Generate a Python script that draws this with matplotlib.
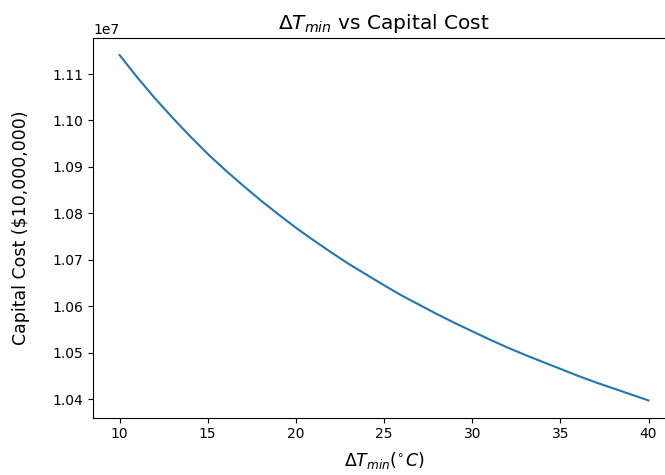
import matplotlib
matplotlib.use("Agg")
import matplotlib.pyplot as plt

dt_min = [10, 11, 12, 13, 14, 15, 16, 17, 18, 19, 20, 21, 22, 23, 24, 25,
          26, 27, 28, 29, 30, 31, 32, 33, 34, 35, 36, 37, 38, 39, 40]
capital_cost = [1.1141e7, 1.1093e7, 1.1048e7, 1.1006e7, 1.0966e7, 1.0928e7,
                1.0893e7, 1.0860e7, 1.0828e7, 1.0798e7, 1.0769e7, 1.0742e7,
                1.0716e7, 1.0691e7, 1.0668e7, 1.0645e7, 1.0623e7, 1.0603e7,
                1.0583e7, 1.0564e7, 1.0546e7, 1.0528e7, 1.0511e7, 1.0495e7,
                1.0480e7, 1.0465e7, 1.0450e7, 1.0436e7, 1.0423e7, 1.0410e7,
                1.0397e7]

fig = plt.figure(figsize=(6.65, 4.75), dpi=100)
ax = fig.add_axes([0.14, 0.1206, 0.875, 0.80])
ax.plot(dt_min, capital_cost, color="C0", linewidth=1.5)
ax.set_title(r"$\Delta T_{min}$ vs Capital Cost", fontsize=14.5)
ax.set_xlabel(r"$\Delta T_{min} (^{\circ}C)$", fontsize=12.5, labelpad=6)
ax.set_ylabel(r"Capital Cost (\$10,000,000)", fontsize=12.5, labelpad=16)
ax.tick_params(labelsize=10)
fig.savefig("out.png", dpi=100)
